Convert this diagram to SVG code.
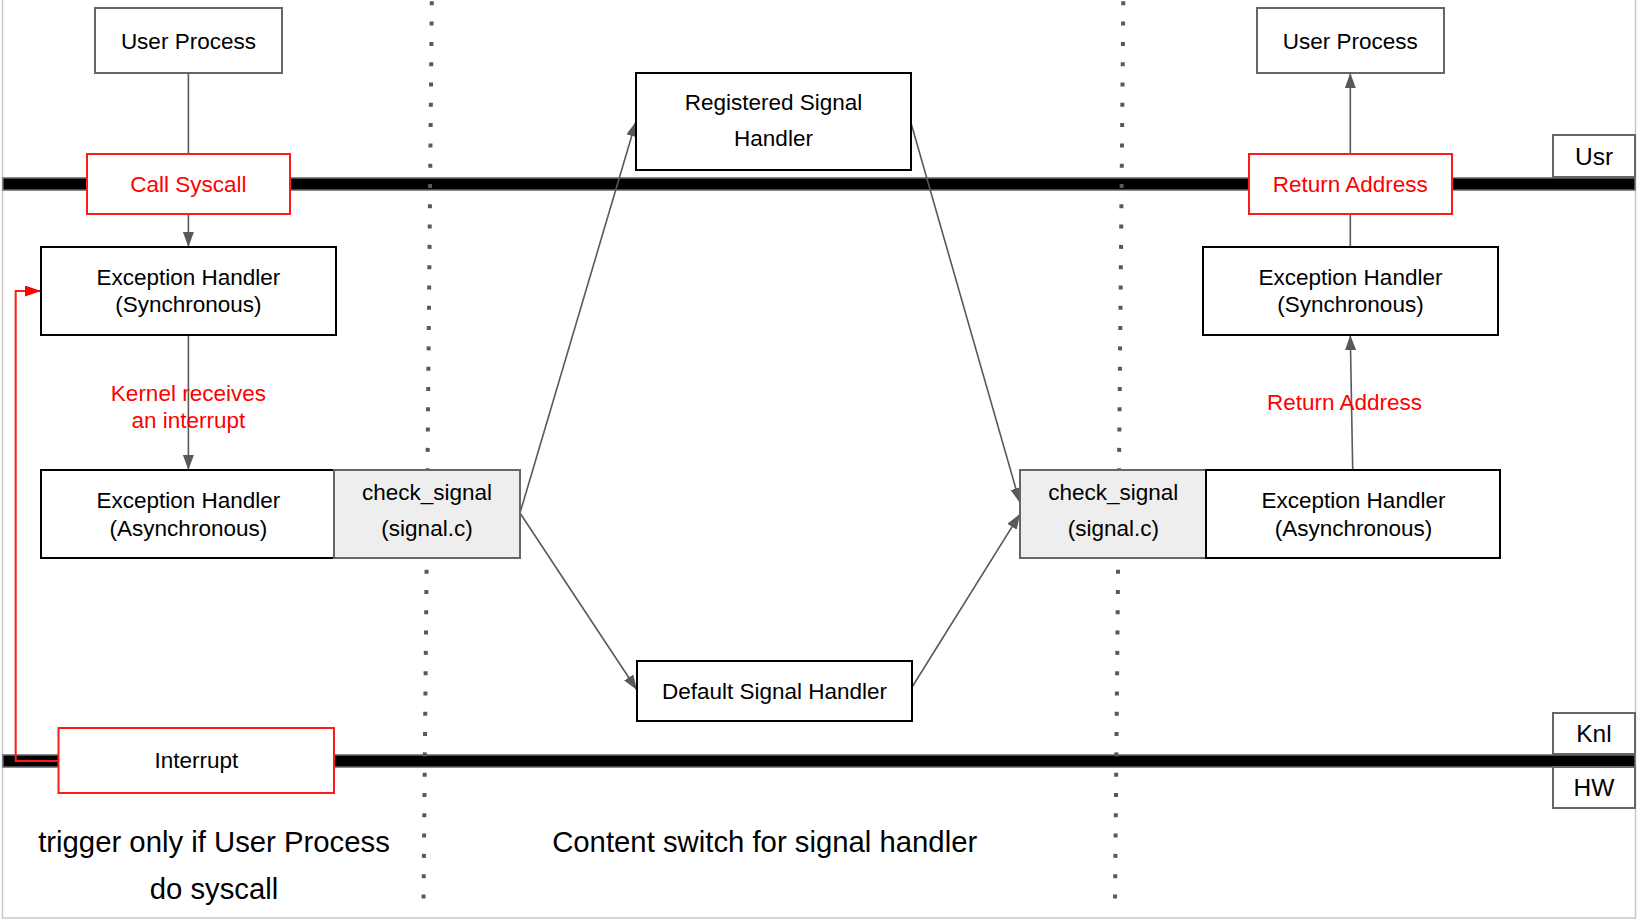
<svg xmlns="http://www.w3.org/2000/svg" width="1638" height="920" viewBox="0 0 1638 920">
<defs>
<style>
text{font-family:"Liberation Sans",Arial,sans-serif;font-size:22.5px;fill:#000;text-anchor:middle}
.red{fill:#ff0000}
.big{font-size:29.3px}
.lvl{font-size:24.5px}
.bx{fill:#fff;stroke:#000;stroke-width:2}
.gbx{fill:#fff;stroke:#666;stroke-width:2}
.rbx{fill:#fff;stroke:#ff1a1a;stroke-width:2}
.cs{fill:#eeeeee;stroke:#666;stroke-width:2}
.band{fill:#000;stroke:#666;stroke-width:1.5}
.dot{stroke:#595959;stroke-width:4;stroke-dasharray:4 16.3;fill:none}
.ln{stroke:#595959;stroke-width:1.6;fill:none}
.arr{stroke:#595959;stroke-width:1.6;fill:none;marker-end:url(#ah)}
.rln{stroke:#ff1a1a;stroke-width:2;fill:none;marker-end:url(#rah)}
</style>
<marker id="ah" markerUnits="userSpaceOnUse" markerWidth="16" markerHeight="12" refX="15" refY="5.5" orient="auto"><path d="M0,0 L15,5.5 L0,11 z" fill="#595959"/></marker>
<marker id="rah" markerUnits="userSpaceOnUse" markerWidth="17" markerHeight="12" refX="16" refY="5.5" orient="auto"><path d="M0,0 L16,5.5 L0,11 z" fill="#ff0000"/></marker>
</defs>
<rect x="0" y="0" width="1638" height="920" fill="#fff"/>
<rect x="2.5" y="-2" width="1633" height="920" fill="none" stroke="#c8c8c8" stroke-width="1.5"/>
<g id="bands">
<rect class="band" x="3" y="178" width="1632" height="12"/>
<rect class="band" x="3" y="755" width="1632" height="12"/>
</g>
<g id="dividers">
<line class="dot" x1="431.8" y1="1.3" x2="423.5" y2="902"/>
<line class="dot" x1="1123.3" y1="1.3" x2="1115" y2="902"/>
</g>
<g id="connectors">
<line class="ln" x1="188.4" y1="73" x2="188.4" y2="154"/>
<line class="arr" x1="188.4" y1="214" x2="188.4" y2="247"/>
<line class="arr" x1="188.4" y1="335" x2="188.4" y2="470"/>
<line class="arr" x1="520" y1="513" x2="636" y2="121.5"/>
<line class="arr" x1="520" y1="513" x2="637" y2="690"/>
<line class="arr" x1="911" y1="123" x2="1020" y2="503"/>
<line class="arr" x1="911.5" y1="688" x2="1020" y2="514"/>
<line class="arr" x1="1352.7" y1="470" x2="1350.3" y2="335"/>
<line class="ln" x1="1350.3" y1="247" x2="1350.3" y2="214"/>
<line class="arr" x1="1350.3" y1="154" x2="1350.3" y2="73"/>
<path class="rln" d="M58.5,761 L15.7,761 L15.7,291 L41,291"/>
</g>
<g id="user-process-left"><rect class="gbx" x="95" y="8" width="187" height="65"/><text x="188.4" y="48.5">User Process</text></g>
<g id="call-syscall"><rect class="rbx" x="87" y="154" width="203" height="60"/><text class="red" x="188.4" y="192">Call Syscall</text></g>
<g id="eh-sync-left"><rect class="bx" x="41" y="247" width="295" height="88"/><text x="188.4" y="284.7">Exception Handler</text><text x="188.4" y="312">(Synchronous)</text></g>
<g id="kernel-label"><text class="red" x="188.4" y="401">Kernel receives</text><text class="red" x="188.4" y="428">an interrupt</text></g>
<g id="eh-async-left"><rect class="bx" x="41" y="470" width="293" height="88"/><text x="188.4" y="508">Exception Handler</text><text x="188.4" y="535.5">(Asynchronous)</text></g>
<g id="check-signal-left"><rect class="cs" x="334" y="470" width="186" height="88"/><text x="427" y="500">check_signal</text><text x="427" y="535.5">(signal.c)</text></g>
<g id="interrupt"><rect class="rbx" x="58.5" y="728" width="275.5" height="65"/><text x="196.4" y="767.5">Interrupt</text></g>
<g id="registered"><rect class="bx" x="636" y="73" width="275" height="97"/><text x="773.5" y="110.4">Registered Signal</text><text x="773.5" y="145.9">Handler</text></g>
<g id="default"><rect class="bx" x="637" y="661" width="275" height="60"/><text x="774.5" y="699">Default Signal Handler</text></g>
<g id="check-signal-right"><rect class="cs" x="1020" y="470" width="186" height="88"/><text x="1113.3" y="500">check_signal</text><text x="1113.3" y="535.5">(signal.c)</text></g>
<g id="eh-async-right"><rect class="bx" x="1206" y="470" width="294" height="88"/><text x="1353.5" y="508">Exception Handler</text><text x="1353.5" y="535.5">(Asynchronous)</text></g>
<g id="return-label"><text class="red" x="1344.5" y="410">Return Address</text></g>
<g id="eh-sync-right"><rect class="bx" x="1203" y="247" width="295" height="88"/><text x="1350.5" y="284.7">Exception Handler</text><text x="1350.5" y="312">(Synchronous)</text></g>
<g id="return-address"><rect class="rbx" x="1249" y="154" width="203" height="60"/><text class="red" x="1350.3" y="192">Return Address</text></g>
<g id="user-process-right"><rect class="gbx" x="1257" y="8" width="187" height="65"/><text x="1350.3" y="48.5">User Process</text></g>
<g id="usr"><rect class="gbx" x="1553" y="135" width="82" height="42"/><text class="lvl" x="1594" y="165.3">Usr</text></g>
<g id="knl"><rect class="gbx" x="1553" y="713" width="82" height="41"/><text class="lvl" x="1594" y="742">Knl</text></g>
<g id="hw"><rect class="gbx" x="1553" y="767" width="82" height="41"/><text class="lvl" x="1594" y="796.3">HW</text></g>
<g id="notes"><text class="big" x="214" y="852.3">trigger only if User Process</text><text class="big" x="214" y="899.3">do syscall</text><text class="big" x="764.7" y="852.3">Content switch for signal handler</text></g>
</svg>
